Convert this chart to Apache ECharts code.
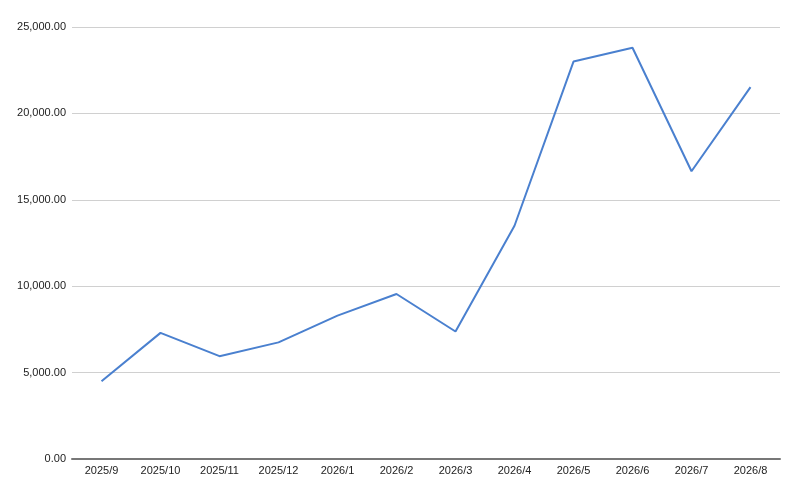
<!DOCTYPE html>
<html><head><meta charset="utf-8">
<script src="https://cdn.jsdelivr.net/npm/echarts@6/dist/echarts.min.js"></script>
<style>html,body{margin:0;padding:0;background:#fff}#c{width:800px;height:494px}</style>
</head><body><div id="c"></div>
<script>
const categories = ['2025/9','2025/10','2025/11','2025/12','2026/1','2026/2','2026/3','2026/4','2026/5','2026/6','2026/7','2026/8'];
const values = [4500, 7300, 5950, 6750, 8300, 9550, 7380, 13500, 23000, 23800, 16650, 21520];
const chart = echarts.init(document.getElementById('c'), null, {renderer:'canvas'});
chart.setOption({
  animation:false,
  backgroundColor:'#fff',
  grid:{left:72,right:20,top:27,bottom:35,containLabel:false},
  xAxis:{type:'category',data:categories,boundaryGap:true,
    axisLine:{lineStyle:{color:'#777',width:2}},
    axisTick:{show:false},
    axisLabel:{color:'#222',fontSize:11,fontFamily:'Arial, Liberation Sans, sans-serif',margin:6}},
  yAxis:{type:'value',min:0,max:25000,interval:5000,
    axisLine:{show:false},axisTick:{show:false},
    splitLine:{lineStyle:{color:'#d0d0d0',width:1}},
    axisLabel:{color:'#222',fontSize:11,fontFamily:'Arial, Liberation Sans, sans-serif',margin:6,
      formatter:v=>v.toLocaleString('en-US',{minimumFractionDigits:2,maximumFractionDigits:2})}},
  series:[{type:'line',data:values,symbol:'none',lineStyle:{color:'#4a80cf',width:2},itemStyle:{color:'#4a80cf'}}]
});
</script></body></html>
